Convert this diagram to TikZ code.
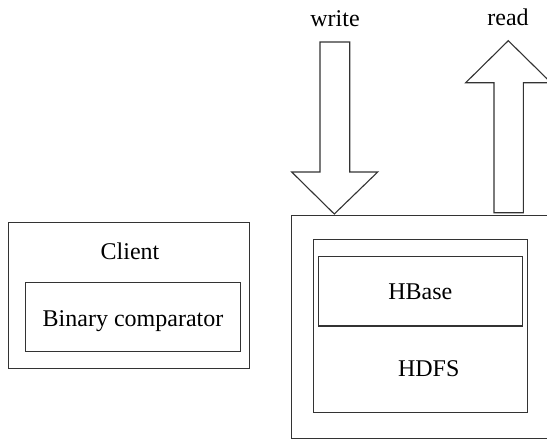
\documentclass[tikz,border=0pt]{standalone}
\usepackage{fontspec}
\setmainfont{Liberation Serif}
\begin{document}
\begin{tikzpicture}[x=1pt,y=-1pt,
  box/.style={draw=black!80, line width=1.1pt, inner sep=0pt, outer sep=0pt, fill=none},
  lbl/.style={font=\fontsize{24}{28}\selectfont, inner sep=0pt, anchor=base},
  blockarrow/.style={draw=black!80, line width=1.1pt, fill=white, line join=miter}]
\useasboundingbox (0,0) rectangle (547,439);
\clip (0,0) rectangle (547,439);
% client
\node[box, minimum width=240.7pt, minimum height=146pt] (client) at (128.7,295.3) {};
\node[lbl] (clientlbl) at (130,259.3) {Client};
\node[box, minimum width=215pt, minimum height=69.4pt] (comp) at (133.2,317) {};
\node[lbl] (complbl) at (133,326) {Binary comparator};
% server
\node[box, minimum width=268.3pt, minimum height=223.3pt] (outer) at (425.8,326.7) {};
\node[box, minimum width=214.4pt, minimum height=173pt] (hdfs) at (420.5,325.8) {};
\node[box, minimum width=204.4pt, minimum height=69.3pt] (hbase) at (420.5,291.3) {};
\node[lbl] (hbaselbl) at (420.3,299) {HBase};
\node[lbl] (hdfslbl) at (428.7,376.7) {HDFS};
% write arrow
\coordinate (wtip) at (334.3,214);
\draw[blockarrow] (320,42) -- (349.7,42) -- (349.7,172) -- (377.7,172) -- (wtip) -- (291.7,172) -- (320,172) -- cycle;
\node[lbl] (writelbl) at (335,26.7) {write};
% read arrow
\coordinate (rtip) at (508.3,40.7);
\draw[blockarrow] (494,212.7) -- (494,82.7) -- (465.7,82.7) -- (rtip) -- (551,82.7) -- (523.3,82.7) -- (523.3,212.7) -- cycle;
\node[lbl] (readlbl) at (508,26) {read};
\end{tikzpicture}
\end{document}
